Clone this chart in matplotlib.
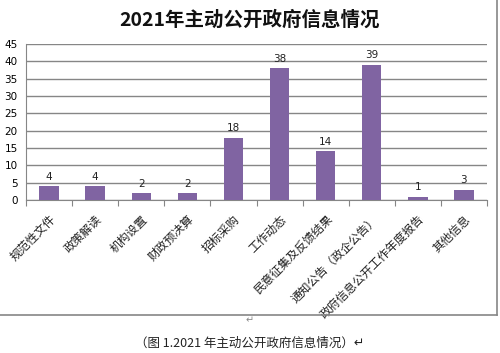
import matplotlib
matplotlib.use("Agg")
import matplotlib.pyplot as plt
from matplotlib.lines import Line2D
import numpy as np

plt.rcParams['font.family'] = ['Noto Sans CJK SC', 'DejaVu Sans']

categories = ["规范性文件", "政策解读", "机构设置", "财政预决算", "招标采购", "工作动态",
              "民意征集及反馈结果", "通知公告（政企公告）", "政府信息公开工作年度报告", "其他信息"]
values = [4, 4, 2, 2, 18, 38, 14, 39, 1, 3]
yticks = [0, 5, 10, 15, 20, 25, 30, 35, 40, 45]

fig = plt.figure(figsize=(5.0, 3.53), dpi=100)
ax = fig.add_axes([0.052, 0.4334, 0.922, 0.4419])

x = np.arange(len(categories))
gray = "#868686"
ax.bar(x, values, width=0.42, color="#8064A2", zorder=3)
for xi, v in zip(x, values):
    ax.text(xi, v + 1.3, str(v), ha="center", va="bottom", fontsize=7.5,
            family=['DejaVu Sans'], color="#222222")

ax.set_xlim(-0.5, len(categories) - 0.5)
ax.set_ylim(0, 45)
ax.set_yticks(yticks)
ax.set_yticklabels([str(t) for t in yticks], fontsize=7.5, family=['DejaVu Sans'])
ax.yaxis.grid(True, color=gray, linewidth=1.0, zorder=0)
ax.set_axisbelow(True)
ax.tick_params(axis='y', length=0, pad=6)

ax.set_xticks(np.arange(-0.5, len(categories), 1.0), minor=False)
ax.set_xticklabels([])
ax.set_xticks(x, minor=True)
ax.set_xticklabels(categories, minor=True, rotation=45, ha="right",
                   rotation_mode="anchor", fontsize=8.5, color="#222222")
ax.tick_params(axis='x', which='major', length=4, color=gray, direction='out')
ax.tick_params(axis='x', which='minor', length=0, pad=9)

for s in ['top', 'right']:
    ax.spines[s].set_visible(False)
ax.spines['left'].set_color(gray)
ax.spines['bottom'].set_color(gray)

fig.text(0.5, 0.943, "2021年主动公开政府信息情况", ha="center", va="center",
         fontsize=14, fontweight="bold", color="#111111")

# outer chart border
fig.add_artist(Line2D([0.994, 0.994], [1.0, 1 - 315/353], color=gray, linewidth=1.2,
                      transform=fig.transFigure))
fig.add_artist(Line2D([0.0, 0.994], [1 - 315/353, 1 - 315/353], color=gray, linewidth=1.2,
                      transform=fig.transFigure))

fig.text(0.5, 1 - 320/353, "↵", ha="center", va="center", fontsize=7, color="#888888",
         family=['DejaVu Sans'])
fig.text(0.5, 1 - 343/353, "（图 1.2021 年主动公开政府信息情况）↵", ha="center", va="center",
         fontsize=9, color="#222222")

fig.savefig("out.png", dpi=100)
